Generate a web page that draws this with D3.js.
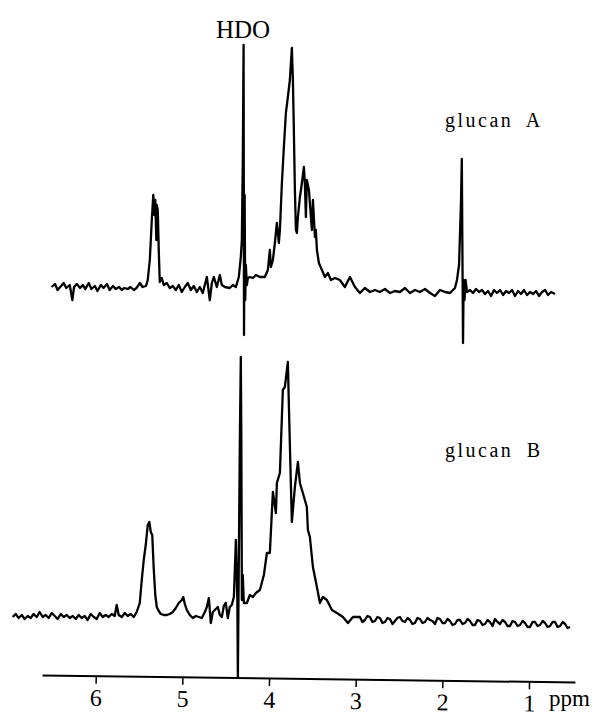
<!DOCTYPE html>
<html>
<head>
<meta charset="utf-8">
<script src="https://cdn.jsdelivr.net/npm/d3@7"></script>
<style>
  body { margin: 0; background: #fff; }
  text { font-family: "Liberation Serif", "DejaVu Serif", serif; fill: #000; }
</style>
</head>
<body>
<svg width="595" height="715"></svg>
<script>
// chemical shift (ppm) and intensity
const glucanA = [
  [6.51,3],[6.47,6],[6.44,0],[6.40,4],[6.37,7],[6.34,2],[6.30,5],[6.27,-10],[6.25,3],[6.22,6],
  [6.18,2],[6.15,5],[6.12,1],[6.08,7],[6.05,1],[6.01,4],[5.98,-1],[5.94,5],[5.91,2],[5.87,6],
  [5.84,0],[5.80,4],[5.77,1],[5.73,3],[5.70,0],[5.67,2],[5.63,1],[5.60,3],[5.56,0],[5.53,2],
  [5.49,7],[5.46,3],[5.42,4],[5.40,10],[5.376,30],[5.353,70],[5.336,95],[5.324,75],[5.313,90],
  [5.301,50],[5.296,85],[5.284,80],[5.273,40],[5.261,8],[5.238,12],[5.215,5],[5.180,7],[5.146,2],
  [5.111,4],[5.076,0],[5.042,5],[5.007,-2],[4.972,3],[4.938,7],[4.903,0],[4.869,4],[4.834,-2],
  [4.799,3],[4.765,-3],[4.718,13],[4.684,-10],[4.660,7],[4.637,13],[4.603,3],[4.568,15],[4.545,5],
  [4.510,3],[4.453,2],[4.418,5],[4.383,3],[4.349,13],[4.326,33],[4.314,50],[4.303,130],[4.294,245],
  [4.289,-45],[4.282,95],[4.275,-10],[4.268,25],[4.256,5],[4.245,12],[4.222,13],[4.187,12],
  [4.152,15],[4.106,13],[4.049,13],[4.014,20],[3.991,40],[3.979,23],[3.956,30],[3.933,47],
  [3.910,67],[3.887,47],[3.875,60],[3.852,107],[3.829,143],[3.806,177],[3.783,193],[3.760,210],
  [3.737,242],[3.725,210],[3.714,160],[3.702,100],[3.690,60],[3.679,57],[3.667,73],[3.644,93],
  [3.621,107],[3.598,123],[3.587,107],[3.575,73],[3.564,110],[3.540,100],[3.529,87],[3.506,60],
  [3.494,90],[3.471,53],[3.460,60],[3.448,40],[3.425,27],[3.390,20],[3.356,13],[3.321,17],
  [3.286,10],[3.240,12],[3.183,10],[3.125,3],[3.067,13],[3.009,3],[2.952,-3],[2.894,2],[2.836,-2],
  [2.778,0],[2.721,-2],[2.663,1],[2.605,-3],[2.547,-1],[2.490,-2],[2.432,2],[2.374,-3],[2.317,0],
  [2.259,-2],[2.201,1],[2.143,-3],[2.086,-6],[2.028,0],[1.970,-2],[1.912,-3],[1.855,2],[1.832,10],
  [1.808,25],[1.785,90],[1.776,131],[1.770,50],[1.762,-53],[1.755,10],[1.745,-10],[1.733,10],
  [1.716,-2],[1.681,0],[1.647,-3],[1.612,1],[1.578,-2],[1.543,0],[1.508,-4],[1.474,-1],[1.439,-6],
  [1.404,0],[1.370,-3],[1.335,0],[1.300,-5],[1.266,-1],[1.231,-3],[1.196,0],[1.162,-6],[1.127,-1],
  [1.093,-4],[1.058,0],[1.023,-5],[0.989,-2],[0.954,-4],[0.919,-1],[0.885,-6],[0.850,-2],
  [0.815,0],[0.781,-5],[0.746,-2],[0.700,-4]
];

const glucanB = [
  [6.958,3],[6.924,6],[6.889,2],[6.854,5],[6.820,1],[6.785,4],[6.751,2],[6.716,6],[6.681,3],
  [6.647,8],[6.612,3],[6.577,5],[6.543,2],[6.508,7],[6.473,4],[6.439,1],[6.404,6],[6.369,3],
  [6.335,5],[6.300,2],[6.266,4],[6.231,1],[6.196,5],[6.162,2],[6.127,4],[6.093,0],[6.058,6],
  [6.023,3],[5.989,1],[5.954,7],[5.919,3],[5.885,5],[5.850,3],[5.815,6],[5.781,4],[5.758,15],
  [5.735,5],[5.700,3],[5.665,7],[5.631,4],[5.596,6],[5.561,3],[5.527,8],[5.492,17],[5.469,40],
  [5.446,60],[5.423,75],[5.400,95],[5.382,98],[5.365,88],[5.348,85],[5.330,50],[5.313,25],
  [5.296,13],[5.273,9],[5.249,6],[5.215,5],[5.180,5],[5.146,6],[5.111,8],[5.076,12],[5.042,17],
  [5.007,20],[4.990,23],[4.972,16],[4.949,10],[4.915,5],[4.880,2],[4.845,4],[4.811,3],[4.776,2],
  [4.741,8],[4.718,13],[4.695,22],[4.672,-3],[4.649,8],[4.626,10],[4.591,13],[4.568,5],[4.545,3],
  [4.522,14],[4.499,17],[4.476,2],[4.453,13],[4.430,15],[4.406,23],[4.383,80],[4.366,20],
  [4.360,-57],[4.349,60],[4.337,180],[4.326,263],[4.320,180],[4.314,20],[4.303,45],[4.291,17],
  [4.256,17],[4.222,25],[4.187,23],[4.152,27],[4.106,30],[4.060,45],[4.025,67],[3.991,67],
  [3.956,128],[3.921,107],[3.910,137],[3.875,147],[3.841,230],[3.818,233],[3.783,258],[3.771,213],
  [3.737,98],[3.702,133],[3.667,158],[3.644,137],[3.610,127],[3.564,113],[3.552,90],[3.529,83],
  [3.494,53],[3.448,33],[3.413,17],[3.379,23],[3.333,20],[3.275,10],[3.217,7],[3.148,3],
  [3.090,-3],[3.032,3],[2.952,3],[2.923,-2],[2.894,0],[2.865,4],[2.836,3],[2.807,-2],[2.778,-1],
  [2.750,3],[2.721,2],[2.692,-3],[2.663,-2],[2.634,2],[2.605,1],[2.576,-4],[2.547,-1],[2.519,2],
  [2.490,3],[2.461,-1],[2.432,-2],[2.403,2],[2.374,0],[2.346,-4],[2.317,-3],[2.288,2],[2.259,1],
  [2.230,-3],[2.201,-2],[2.172,2],[2.143,0],[2.115,-1],[2.086,-4],[2.057,2],[2.028,1],[1.999,-3],
  [1.970,-3],[1.941,1],[1.912,-1],[1.883,-5],[1.855,-4],[1.826,0],[1.797,0],[1.768,-4],[1.739,-3],
  [1.710,1],[1.681,-1],[1.652,-5],[1.624,-5],[1.595,0],[1.566,-1],[1.537,-5],[1.508,-4],[1.480,0],
  [1.451,-2],[1.422,-6],[1.393,1],[1.364,-2],[1.335,-4],[1.306,0],[1.277,-2],[1.249,-6],[1.220,-6],
  [1.191,-1],[1.162,-2],[1.133,-6],[1.104,-5],[1.075,-1],[1.046,-3],[1.018,-7],[0.989,-7],
  [0.960,-2],[0.931,-2],[0.902,-6],[0.873,-5],[0.844,-1],[0.815,-3],[0.787,-7],[0.758,-6],
  [0.729,-2],[0.700,-2],[0.671,-7],[0.642,-6],[0.613,-2],[0.584,-4],[0.556,-8],[0.527,-7]
];

const ppmTicks = [6, 5, 4, 3, 2, 1];

const svg = d3.select('svg');

// ppm runs right to left
const x = d3.scaleLinear().domain([6.62, 0.47]).range([42, 575]);
const yA = d3.scaleLinear().domain([-60, 250]).range([350, 40]);
const yB = d3.scaleLinear().domain([-60, 270]).range([680, 350]);

function drawSpectrum(data, y) {
  const line = d3.line()
    .x(d => x(d[0]))
    .y(d => y(d[1]));
  svg.append('path')
    .datum(data)
    .attr('d', line)
    .attr('fill', 'none')
    .attr('stroke', '#000')
    .attr('stroke-width', 2.3)
    .attr('stroke-linejoin', 'round');
}

drawSpectrum(glucanA, yA);
drawSpectrum(glucanB, yB);

// the scanned axis is tilted a little
const axis = d3.axisBottom(x)
  .tickValues(ppmTicks)
  .tickFormat(d3.format('d'))
  .tickSize(8)
  .tickSizeOuter(0)
  .tickPadding(5);

const gx = svg.append('g')
  .attr('transform', 'translate(0,675) rotate(0.75,42,0)')
  .call(axis);

gx.select('.domain').attr('stroke-width', 2);
gx.selectAll('.tick line').attr('stroke-width', 1.5);
gx.selectAll('.tick text')
  .style('font-family', '"Liberation Serif", "DejaVu Serif", serif')
  .attr('font-size', 24);

svg.append('text')
  .attr('x', 549)
  .attr('y', 706)
  .attr('font-size', 23)
  .text('ppm');

svg.append('text')
  .attr('x', 243)
  .attr('y', 38)
  .attr('text-anchor', 'middle')
  .attr('font-size', 25)
  .text('HDO');

svg.append('text')
  .attr('x', 445)
  .attr('y', 127)
  .attr('font-size', 20)
  .attr('letter-spacing', 2.5)
  .attr('word-spacing', 6)
  .text('glucan A');

svg.append('text')
  .attr('x', 445)
  .attr('y', 457)
  .attr('font-size', 20)
  .attr('letter-spacing', 2.5)
  .attr('word-spacing', 6)
  .text('glucan B');
</script>
</body>
</html>
